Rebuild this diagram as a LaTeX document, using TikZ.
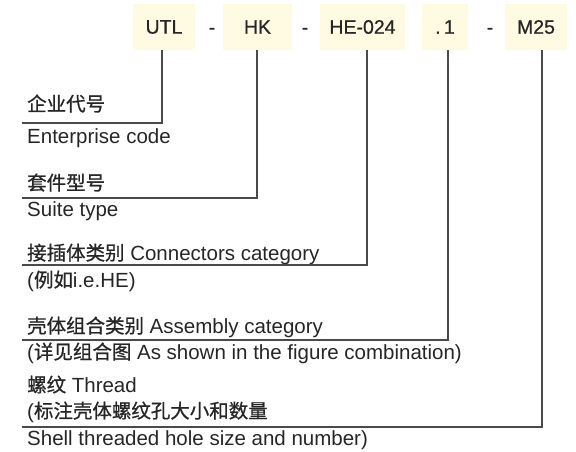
\documentclass[tikz,border=0pt]{standalone}
\usepackage{fontspec}
\setmainfont{Liberation Sans}
\newfontfamily\cjk[Scale=0.95,FakeBold=0.8]{Noto Sans CJK SC}
\newfontfamily\codefont[FakeBold=0.6]{Liberation Sans}
\newcommand{\zh}[1]{{\cjk #1}}
\definecolor{boxfill}{HTML}{FEFBE2}
\definecolor{ink}{HTML}{262626}
\definecolor{rulecol}{HTML}{4A4A4A}
\begin{document}
\begin{tikzpicture}[x=1pt,y=-1pt,
  code/.style={fill=boxfill, text=ink, inner sep=0pt, minimum height=46pt, font=\codefont\fontsize{19.5}{22}\selectfont},
  sepchar/.style={text=ink, inner sep=0pt, anchor=base, font=\codefont\fontsize{19.5}{22}\selectfont},
  lbl/.style={text=ink, inner sep=0pt, anchor=base west, font=\fontsize{20.5}{24}\selectfont},
  link/.style={draw=rulecol, line width=1.3pt}]
\useasboundingbox (0,0) rectangle (576,451);
% code boxes
\node[code, minimum width=62pt] (utl) at (164,27) {UTL};
\node[code, minimum width=69pt] (hk) at (257.5,27) {HK};
\node[code, minimum width=85pt] (he) at (362.5,27) {HE-024};
\node[code, minimum width=46pt] (dot) at (445,27) {.\,1};
\node[code, minimum width=62pt] (mt) at (536,27) {M25};
\node[sepchar] (s1) at (212,34) {-};
\node[sepchar] (s2) at (305,34) {-};
\node[sepchar] (s3) at (490,34) {-};
% labels
\node[lbl] (l1a) at (27,111) {\zh{企业代号}};
\node[lbl] (l1b) at (27,143) {Enterprise code};
\node[lbl] (l2a) at (27,190) {\zh{套件型号}};
\node[lbl] (l2b) at (27,216) {Suite type};
\node[lbl] (l3a) at (27,260) {\zh{接插体类别} Connectors category};
\node[lbl] (l3b) at (27,287) {(\zh{例如}i.e.HE)};
\node[lbl] (l4a) at (27,333) {\zh{壳体组合类别} Assembly category};
\node[lbl] (l4b) at (27,359) {(\zh{详见组合图} As shown in the figure combination)};
\node[lbl] (l5a) at (27,392) {\zh{螺纹} Thread};
\node[lbl] (l5b) at (27,418) {(\zh{标注壳体螺纹孔大小和数量}};
\node[lbl] (l5c) at (27,445) {Shell threaded hole size and number)};
% connector corners and ends
\coordinate (j1) at (162,123);   \coordinate (e1) at (22,123);
\coordinate (j2) at (257,198);   \coordinate (e2) at (22,198);
\coordinate (j3) at (367,265);   \coordinate (e3) at (22,265);
\coordinate (j4) at (448,340);   \coordinate (e4) at (22,340);
\coordinate (j5) at (542,427);   \coordinate (e5) at (22,427);
\draw[link] (utl.south -| j1) -- (j1) -- (e1);
\draw[link] (hk.south -| j2) -- (j2) -- (e2);
\draw[link] (he.south -| j3) -- (j3) -- (e3);
\draw[link] (dot.south -| j4) -- (j4) -- (e4);
\draw[link] (mt.south -| j5) -- (j5) -- (e5);
\end{tikzpicture}
\end{document}
